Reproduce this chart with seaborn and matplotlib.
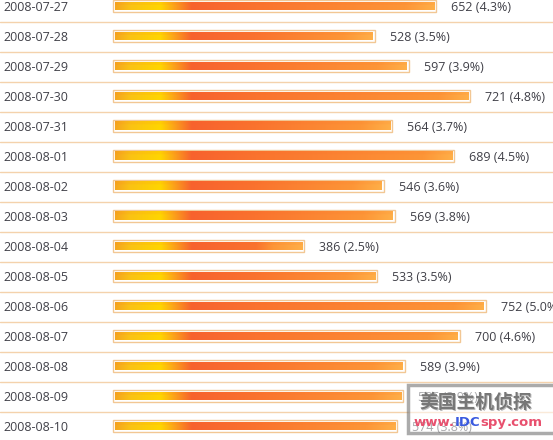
"""Daily visits bar list (2008-07-27 .. 2008-08-10)."""
import matplotlib
matplotlib.use('Agg')
import matplotlib.pyplot as plt
import matplotlib.patches as mpatches
import numpy as np
import seaborn as sns

dates = ['2008-07-27', '2008-07-28', '2008-07-29', '2008-07-30', '2008-07-31',
         '2008-08-01', '2008-08-02', '2008-08-03', '2008-08-04', '2008-08-05',
         '2008-08-06', '2008-08-07', '2008-08-08', '2008-08-09', '2008-08-10']
visits = [652, 528, 597, 721, 564, 689, 546, 569, 386, 533, 752, 700, 589, 586, 574]
share = [4.3, 3.5, 3.9, 4.8, 3.7, 4.5, 3.6, 3.8, 2.5, 3.5, 5.0, 4.6, 3.9, 3.9, 3.8]

sns.set_style('white')
plt.rcParams['font.family'] = ['Open Sans', 'DejaVu Sans']

W, H = 553, 440
PX = 0.4955          # pixels per visit
X0 = 113             # bar start, px
fig = plt.figure(figsize=(W / 100, H / 100), dpi=100)
ax = fig.add_axes([0, 0, 1, 1])

sns.barplot(x=visits, y=dates, orient='h', color='white', edgecolor='#f2c794',
            linewidth=1.0, width=0.4, saturation=1, ax=ax, zorder=2)

top = -6 / 30
ax.axis('off')

# gradient fill inside each bar (orange -> yellow -> red -> orange)
def bar_colors(n):
    stops = np.array([0, 15, 45, 58, 76, 140, max(n - 30, 141), n])
    cols = np.array([[245, 165, 30], [250, 195, 20], [255, 214, 0], [252, 165, 25],
                     [247, 98, 46], [250, 115, 46], [253, 150, 55], [255, 176, 72]]) / 255
    xs = np.arange(n)
    return np.stack([np.interp(xs, stops, cols[:, k]) for k in range(3)], axis=-1)

padx, pady = 2 / PX, 2 / 30
for p in ax.patches:
    x0, y0 = p.get_x(), p.get_y()
    w, h = p.get_width(), p.get_height()
    n = int(round(w * PX)) - 4
    img = np.repeat(bar_colors(n)[None, :, :], 8, axis=0)
    img[:3] = img[:3] * 0.93 + 0.07 * np.array([0.97, 0.35, 0.15])
    ax.imshow(img, extent=(x0 + padx, x0 + w - padx, y0 + h - pady, y0 + pady),
              aspect='auto', interpolation='bilinear', zorder=3)

ax.set_xlim(-X0 / PX, (W - X0) / PX)
ax.set_ylim(top + H / 30, top)

# row separators
for i in range(len(dates)):
    ax.axhline(i + 0.5 + 1 / 30, color='#f4d2ac', lw=1.0, zorder=1)

# labels
for i, (d, v, s) in enumerate(zip(dates, visits, share)):
    ax.text(-X0 / PX + 3 / PX, i + 1.5 / 30, d, va='center', ha='left',
            fontsize=9, color='#404048')
    ax.annotate(f'{v} ({s}%)', (v, i + 1.5 / 30), xytext=(15, 0),
                textcoords='offset pixels', va='center', ha='left',
                fontsize=9, color='#404048')

# watermark
box = mpatches.Rectangle((408 / W, 1 - 433 / H), 150 / W, 48 / H,
                         transform=fig.transFigure, facecolor='white', alpha=0.55,
                         edgecolor='#666666', lw=2.5, zorder=10)
fig.add_artist(box)
cjk = ['Noto Sans CJK SC', 'DejaVu Sans']
fig.text(477 / W, 1 - 403 / H, '美国主机侦探', family=cjk, fontsize=13.5,
         fontweight='bold', color='#bbbbbb', ha='center', va='center', zorder=11)
fig.text(476 / W, 1 - 402 / H, '美国主机侦探', family=cjk, fontsize=13.5,
         fontweight='bold', color='#777777', ha='center', va='center', zorder=11)

fig.canvas.draw()
renderer = fig.canvas.get_renderer()
xp = 414
for txt, c in [('www.', '#e8506e'), ('IDC', '#3a5adf'), ('spy', '#e8506e'), ('.com', '#e8506e')]:
    t = fig.text(xp / W, 1 - 422 / H, txt, family='DejaVu Sans', fontsize=9.5,
                 fontweight='bold', color=c, ha='left', va='center', zorder=11)
    xp += t.get_window_extent(renderer).width

plt.savefig('out.png', dpi=100)
plt.close()
